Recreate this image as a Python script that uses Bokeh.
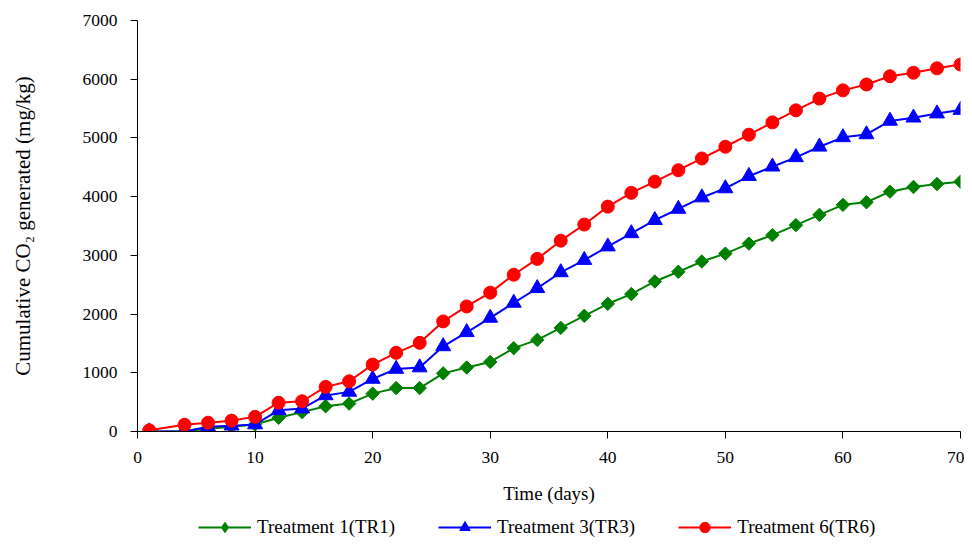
from bokeh.plotting import figure
from bokeh.models import Range1d, SingleIntervalTicker, Legend, LegendItem
from bokeh.layouts import column
from bokeh.embed import file_html
from bokeh.resources import INLINE
import math

days = [1, 4, 6, 8, 10, 12, 14, 16, 18, 20, 22, 24, 26, 28, 30, 32, 34, 36,
        38, 40, 42, 44, 46, 48, 50, 52, 54, 56, 58, 60, 62, 64, 66, 68, 70]

tr1 = [0, 5, 45, 80, 120, 235, 330, 430, 475, 645, 740, 740, 990, 1090, 1185,
       1420, 1560, 1765, 1970, 2175, 2340, 2555, 2720, 2895, 3030, 3200, 3345,
       3515, 3690, 3860, 3905, 4085, 4165, 4215, 4255]

tr3 = [0, 0, 80, 100, 120, 360, 390, 615, 675, 895, 1065, 1090, 1450, 1690,
       1935, 2190, 2440, 2710, 2920, 3150, 3375, 3600, 3790, 3985, 4140, 4350,
       4510, 4670, 4850, 5010, 5060, 5290, 5345, 5415, 5475]

tr6 = [20, 115, 150, 185, 250, 490, 515, 760, 855, 1140, 1340, 1510, 1875, 2130,
       2365, 2670, 2940, 3250, 3525, 3830, 4065, 4255, 4450, 4650, 4850, 5055,
       5265, 5470, 5670, 5810, 5910, 6050, 6110, 6185, 6250]

labels = ["Treatment 1(TR1)", "Treatment 3(TR3)", "Treatment 6(TR6)"]
colors = ["#008000", "#0000FF", "#FF0000"]
markers = ["diamond", "triangle", "circle"]

FONT = "Liberation Serif"

p = figure(width=964, height=506, output_backend="svg", toolbar_location=None,
           x_range=Range1d(0, 70), y_range=Range1d(0, 7000),
           min_border_left=137, min_border_right=4, min_border_top=20,
           min_border_bottom=74)

p.outline_line_color = None
p.xgrid.grid_line_color = None
p.ygrid.grid_line_color = None

p.xaxis.ticker = SingleIntervalTicker(interval=10)
p.yaxis.ticker = SingleIntervalTicker(interval=1000)
for ax in (p.xaxis, p.yaxis):
    ax.minor_tick_line_color = None
    ax.major_tick_in = 0
    ax.major_tick_out = 7
    ax.axis_line_color = "black"
    ax.major_tick_line_color = "black"
    ax.major_label_text_font = FONT
    ax.major_label_text_font_size = "17.5px"
    ax.major_label_text_color = "black"
    ax.axis_label_text_font = FONT
    ax.axis_label_text_font_style = "normal"
    ax.axis_label_text_color = "black"

p.xaxis.major_label_standoff = 13
p.yaxis.major_label_standoff = 13
p.xaxis.axis_label = "Time (days)"
p.xaxis.axis_label_text_font_size = "19px"
p.xaxis.axis_label_standoff = 17
p.yaxis.axis_label = "Cumulative CO\u2082 generated (mg/kg)"
p.yaxis.axis_label_text_font_size = "21px"
p.yaxis.axis_label_standoff = 45


def add_series(fig, xs, ys, col, mk, legend_only=False):
    lr = fig.line(xs, ys, line_color=col, line_width=2)
    if mk == "diamond":
        if legend_only:
            sr = fig.scatter(xs, ys, marker="diamond", size=14,
                             fill_color=col, line_color=col)
        else:
            sr = fig.scatter(xs, ys, marker="square", size=9.5,
                             angle=math.pi / 4, fill_color=col, line_color=col)
    elif mk == "triangle":
        sr = fig.scatter(xs, ys, marker="triangle", size=15,
                         fill_color=col, line_color=col)
    else:
        sr = fig.scatter(xs, ys, marker="circle", size=13,
                         fill_color=col, line_color=col)
    return lr, sr


for vals, col, mk in zip([tr1, tr3, tr6], colors, markers):
    add_series(p, days, vals, col, mk)

# legend strip below the chart (its ranges keep the series out of view;
# only the legend entries are seen)
lg = figure(width=964, height=34, output_backend="svg", toolbar_location=None,
            x_range=Range1d(-200, -100), y_range=Range1d(-200, -100),
            min_border_left=0, min_border_right=0, min_border_top=0,
            min_border_bottom=0)
lg.axis.visible = False
lg.xgrid.grid_line_color = None
lg.ygrid.grid_line_color = None
lg.outline_line_color = None

items = []
for vals, lab, col, mk in zip([tr1, tr3, tr6], labels, colors, markers):
    lr, sr = add_series(lg, days, vals, col, mk, legend_only=True)
    items.append(LegendItem(label=lab, renderers=[lr, sr]))

legend = Legend(items=items, orientation="horizontal", location=(61, 0),
                border_line_color=None, background_fill_alpha=0,
                glyph_width=53, glyph_height=26, label_standoff=6, spacing=43,
                padding=0, margin=0,
                label_text_font=FONT, label_text_font_size="19px",
                label_text_color="black")
lg.add_layout(legend, "center")

layout = column(p, lg, spacing=0)
open("out.html", "w").write(file_html(layout, INLINE))
